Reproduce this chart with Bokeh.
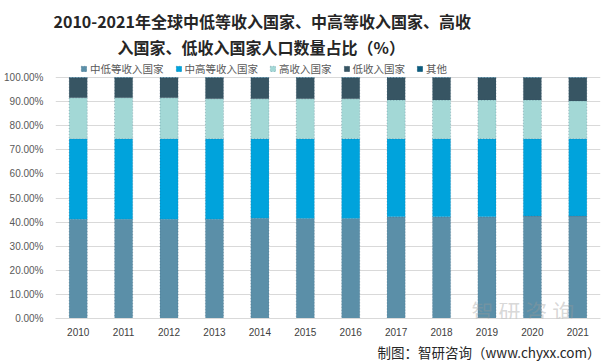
from bokeh.plotting import figure
from bokeh.models import ColumnDataSource, Label, Legend, FixedTicker, PrintfTickFormatter, Title, Range1d
from bokeh.embed import file_html
from bokeh.resources import INLINE

years = ["2010", "2011", "2012", "2013", "2014", "2015", "2016", "2017", "2018", "2019", "2020", "2021"]
lower_middle = [41.2, 41.2, 41.2, 41.2, 41.6, 41.5, 41.5, 42.2, 42.2, 42.2, 42.5, 42.5]
upper_middle = [33.4, 33.4, 33.4, 33.4, 33.0, 33.1, 33.1, 32.4, 32.4, 32.4, 32.1, 32.1]
high_income = [17.0, 17.0, 17.0, 16.6, 16.6, 16.6, 16.6, 16.1, 16.1, 16.1, 16.1, 15.7]
low_income = [8.2, 8.2, 8.2, 8.6, 8.6, 8.6, 8.6, 9.1, 9.1, 9.1, 9.1, 9.5]
other = [0.2, 0.2, 0.2, 0.2, 0.2, 0.2, 0.2, 0.2, 0.2, 0.2, 0.2, 0.2]
series_names = ["中低等收入国家", "中高等收入国家", "高收入国家", "低收入国家", "其他"]
y_ticks = [0, 10, 20, 30, 40, 50, 60, 70, 80, 90, 100]

title_line1 = "2010-2021年全球中低等收入国家、中高等收入国家、高收"
title_line2 = "入国家、低收入国家人口数量占比（%）"
source_note = "制图：智研咨询（www.chyxx.com）"
watermark = "智 研 咨 询"

colors = ["#5B8FA8", "#00A3DC", "#A3D8D6", "#375563", "#0B5C7E"]
keys = ["lm", "um", "hi", "lo", "ot"]

source = ColumnDataSource(dict(years=years, lm=lower_middle, um=upper_middle,
                               hi=high_income, lo=low_income, ot=other))

# frame spans page y 58..318; 100% sits at y 77 -> extra headroom for the legend
p = figure(width=605, height=364, x_range=years, y_range=Range1d(0, 107.9),
           output_backend="svg", toolbar_location=None,
           min_border_left=55, min_border_right=5, min_border_top=58, min_border_bottom=46)
p.outline_line_color = None
p.background_fill_color = "white"
p.border_fill_color = "white"

renderers = p.vbar_stack(keys, x="years", width=0.4, source=source, color=colors,
                         line_color="#2a4a66", line_width=0.6, line_dash="1 2", line_alpha=0.5)
for r, c in zip(renderers, colors):
    r.glyph.fill_color = c

# axes
p.yaxis.ticker = FixedTicker(ticks=y_ticks)
p.yaxis.formatter = PrintfTickFormatter(format="%.2f%%")
p.yaxis.axis_line_color = None
p.yaxis.major_tick_line_color = None
p.yaxis.minor_tick_line_color = None
p.yaxis.major_tick_out = 0
p.yaxis.major_tick_in = 0
p.yaxis.major_label_standoff = 12
p.yaxis.major_label_text_font = "Liberation Sans"
p.yaxis.major_label_text_font_size = "10px"
p.yaxis.major_label_text_color = "#595959"

p.xaxis.axis_line_color = "#D9D9D9"
p.xaxis.major_tick_line_color = None
p.xaxis.minor_tick_line_color = None
p.xaxis.major_tick_out = 0
p.xaxis.major_tick_in = 0
p.xaxis.major_label_standoff = 9
p.xaxis.major_label_text_font = "Liberation Sans"
p.xaxis.major_label_text_font_size = "10px"
p.xaxis.major_label_text_color = "#404040"

p.xgrid.grid_line_color = None
p.ygrid.grid_line_color = "#D9D9D9"
p.ygrid.grid_line_width = 1

# legend inside the headroom of the frame
legend = Legend(items=[(n, [r]) for n, r in zip(series_names, renderers)],
                orientation="horizontal", location=(25, 242))
legend.background_fill_alpha = 0
legend.border_line_color = None
legend.padding = 2
legend.margin = 0
legend.spacing = 11
legend.glyph_width = 7
legend.glyph_height = 7
legend.label_standoff = 3
legend.label_height = 12
legend.label_text_font = "Noto Sans CJK SC"
legend.label_text_font_size = "10.5px"
legend.label_text_color = "#595959"
legend.label_text_baseline = "middle"
p.add_layout(legend, "center")

# title lines (line 2 nearest the frame)
for txt, off, sto, lh in [(title_line2, 62, 0, 0.8), (title_line1, -2, 0, 1.0)]:
    p.add_layout(Title(text=txt, align="left", offset=off, standoff=sto, text_line_height=lh,
                       text_font="Noto Sans CJK SC", text_font_style="bold",
                       text_font_size="16px", text_color="#262626"), "above")

# source note below the x axis
p.add_layout(Title(text=source_note, align="right", offset=0, standoff=2,
                   text_font="Noto Sans CJK SC", text_font_style="normal",
                   text_font_size="13.5px", text_color="#262626"), "below")

# faint watermark inside the plot area
p.add_layout(Label(x=416, y=9, x_units="screen", y_units="screen", text=watermark,
                   text_align="left", text_baseline="middle",
                   text_font="Noto Sans CJK SC", text_font_size="22px",
                   text_color="#9A9A9A", text_alpha=0.4))

open("out.html", "w").write(file_html(p, INLINE))
